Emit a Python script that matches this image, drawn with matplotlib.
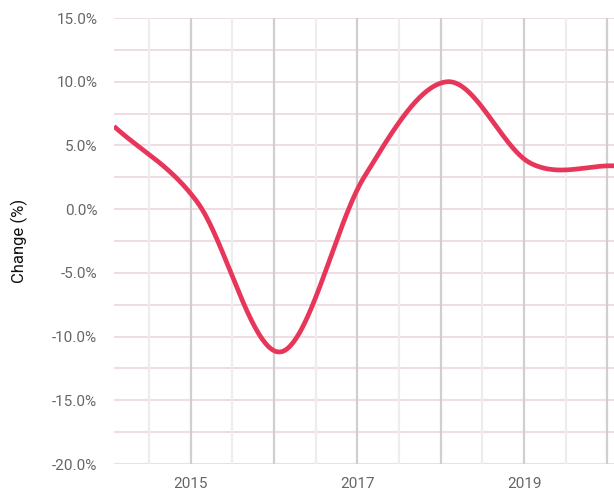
import numpy as np
import matplotlib
matplotlib.use("Agg")
import matplotlib.pyplot as plt
from matplotlib.ticker import FixedLocator, FuncFormatter, MultipleLocator

plt.rcParams["font.family"] = ["Roboto", "DejaVu Sans"]

# yearly change, one reading per year (late January)
years = [2014.08, 2015.08, 2016.08, 2017.08, 2018.08, 2019.08, 2020.08]
change = [6.5, 0.55, -11.2, 2.5, 10.0, 3.6, 3.4]

year_labels = [2015, 2017, 2019]

LINE = "#E8365A"
HGRID = "#EAD5DC"
VMAJOR = "#CFCFCF"
VMINOR = "#EDEDED"


def catmull_rom(x, y, n=60):
    """Smooth curve through the points (uniform Catmull-Rom tangents)."""
    x = np.asarray(x, float)
    y = np.asarray(y, float)
    m = np.empty_like(y)
    m[1:-1] = (y[2:] - y[:-2]) / (x[2:] - x[:-2])
    m[0] = (y[1] - y[0]) / (x[1] - x[0])
    m[-1] = (y[-1] - y[-2]) / (x[-1] - x[-2])
    xs, ys = [], []
    for i in range(len(x) - 1):
        h = x[i + 1] - x[i]
        t = np.linspace(0, 1, n, endpoint=(i == len(x) - 2))
        h00 = 2 * t**3 - 3 * t**2 + 1
        h10 = t**3 - 2 * t**2 + t
        h01 = -2 * t**3 + 3 * t**2
        h11 = t**3 - t**2
        xs.append(x[i] + t * h)
        ys.append(h00 * y[i] + h10 * h * m[i] + h01 * y[i + 1] + h11 * h * m[i + 1])
    return np.concatenate(xs), np.concatenate(ys)


fig = plt.figure(figsize=(6.14, 4.93), dpi=100)
ax = fig.add_axes([114 / 614, 1 - 464 / 493, 500 / 614, 446 / 493])

sx, sy = catmull_rom(years, change)
ax.plot(sx, sy, color=LINE, lw=3.4, solid_capstyle="butt", zorder=5)

ax.set_xlim(years[0], years[-1])
ax.set_ylim(-20, 15)

# horizontal grid every 2.5 %, labels every 5 %
ax.yaxis.set_major_locator(MultipleLocator(5))
ax.yaxis.set_major_formatter(FuncFormatter(lambda v, _: f"{v:.1f}%"))
for v in np.arange(-20, 15.01, 2.5):
    ax.axhline(v, color=HGRID, lw=1.1, zorder=1)

# vertical grid: full years dark, half years light
for yr in range(2015, 2021):
    ax.axvline(yr, color=VMAJOR, lw=1.6, zorder=2)
    ax.axvline(yr - 0.5, color=VMINOR, lw=1.6, zorder=1)

ax.xaxis.set_major_locator(FixedLocator(year_labels))
ax.xaxis.set_major_formatter(FuncFormatter(lambda v, _: f"{int(v)}"))

ax.tick_params(axis="both", which="both", length=0, colors="#666666",
               labelsize=11)
ax.tick_params(axis="y", pad=12)
ax.tick_params(axis="x", pad=9)

ax.set_ylabel("Change (%)", fontsize=12, color="#111111", labelpad=17)

for s in ax.spines.values():
    s.set_visible(False)

fig.savefig("out.png", dpi=100)
